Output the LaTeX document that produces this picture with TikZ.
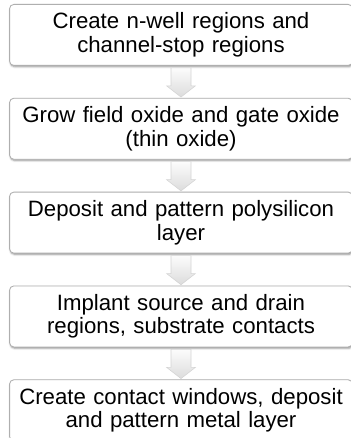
\documentclass[tikz,border=0pt]{standalone}
\usepackage{fontspec}
\setmainfont{Liberation Sans}
\usetikzlibrary{positioning,calc,shadows.blur}
\definecolor{boxline}{RGB}{175,175,175}
\definecolor{arrline}{RGB}{212,212,212}
\definecolor{arrtop}{RGB}{252,252,252}
\definecolor{arrbot}{RGB}{220,220,220}
\tikzset{
  stepbox/.style={draw=boxline,fill=white,line width=0.6pt,rounded corners=3pt,
    minimum width=8.55cm,minimum height=1.525cm,inner sep=1pt,
    text width=8.5cm,align=center,
    font=\fontsize{15.8}{16.6}\selectfont,
    blur shadow={shadow xshift=0.6pt,shadow yshift=-0.9pt,
      shadow blur radius=1.4pt,shadow opacity=45}},
  downarr/.style={draw=arrline,line width=0.4pt,top color=arrtop,bottom color=arrbot},
}
\begin{document}
\begin{tikzpicture}[node distance=0.8cm]
  \useasboundingbox (0,0) rectangle (8.75,-10.95);
  % process steps
  \node[stepbox,anchor=north] at (4.525,-0.1) (well)
    {Create n-well regions and\\channel-stop regions};
  \node[stepbox,below=of well] (oxide)
    {Grow field oxide and gate oxide\\(thin oxide)};
  \node[stepbox,below=of oxide] (poly)
    {Deposit and pattern polysilicon\\layer};
  \node[stepbox,below=of poly] (implant)
    {Implant source and drain\\regions, substrate contacts};
  \node[stepbox,below=of implant] (metal)
    {Create contact windows, deposit\\and pattern metal layer};

  % block arrows
  \foreach \a/\b in {well/oxide,oxide/poly,poly/implant,implant/metal}{
    \draw[downarr] ($(\a.south)+(-0.25,-0.05)$) -- ($(\b.north)+(-0.25,0.3)$)
      -- ($(\b.north)+(-0.36,0.3)$) -- ($(\b.north)+(0,0.02)$)
      -- ($(\b.north)+(0.36,0.3)$) -- ($(\b.north)+(0.25,0.3)$)
      -- ($(\a.south)+(0.25,-0.05)$) -- cycle;
  }
\end{tikzpicture}
\end{document}
